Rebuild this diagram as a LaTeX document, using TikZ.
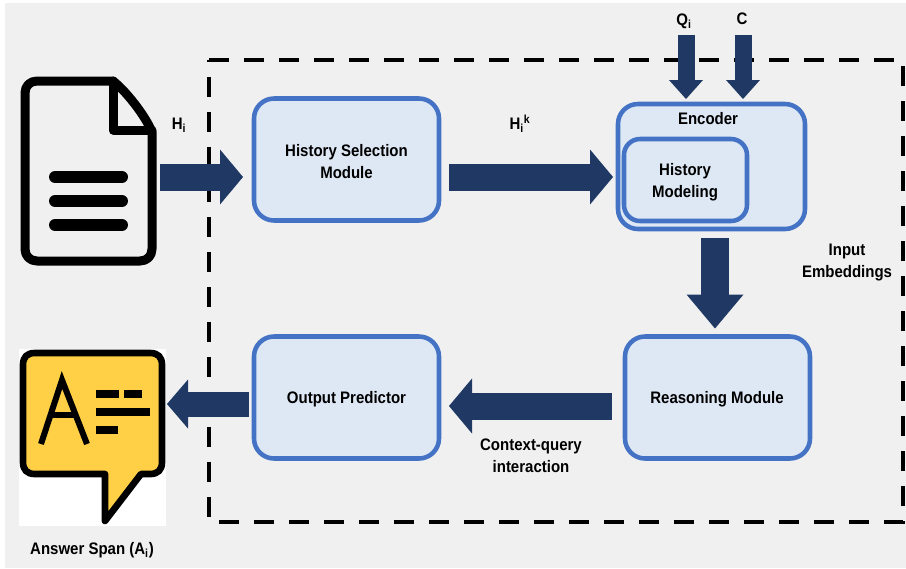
\documentclass[tikz,border=0pt]{standalone}
\usepackage{fontspec}
\setmainfont[FakeStretch=0.9]{Liberation Sans}
\usetikzlibrary{arrows.meta}
\definecolor{pagegray}{RGB}{240,240,240}
\definecolor{boxblue}{RGB}{68,114,196}
\definecolor{boxfill}{RGB}{222,232,245}
\definecolor{arrownavy}{RGB}{31,56,100}
\definecolor{bubbleyellow}{RGB}{255,208,70}
\tikzset{every picture/.style={line width=0.75pt}}
\tikzset{
  modbox/.style={draw=boxblue,fill=boxfill,line width=3.4pt,rounded corners=15pt,outer sep=0pt,inner sep=0pt,minimum width=138.75pt,minimum height=91.5pt},
  txt/.style={inner sep=0pt,align=center,font=\fontsize{12.5}{16.5}\selectfont\bfseries},
  bigarrow/.style={draw=arrownavy,line width=20.25pt,-{Triangle[length=17.25pt,width=41.25pt,line width=0pt]}},
  thinarrow/.style={draw=arrownavy,line width=12.75pt,-{Triangle[length=14.25pt,width=25.5pt,line width=0pt]}},
  icon/.style={line width=6.75pt,line join=round,line cap=round},
}
\begin{document}
\begin{tikzpicture}[x=0.75pt,y=0.75pt,yscale=-1,xscale=1]
    \useasboundingbox (0,0) rectangle (906,568);
    % page
    \fill[pagegray] (5,3) rectangle (906,568);
    % dashed frame
    \draw[line width=3.4pt,dash pattern=on 15pt off 11.25pt] (209,60) -- (903,60) -- (903,522) -- (209,522) -- cycle;

    % document icon
    \draw[icon,fill=pagegray] (25,93) .. controls (25,86) and (30,81) .. (37,81) -- (113,81) .. controls (125,90) and (145,115) .. (152,132) -- (152,249) .. controls (152,256) and (147,261) .. (140,261) -- (37,261) .. controls (30,261) and (25,256) .. (25,249) -- cycle;
    \draw[icon,line join=round] (113,81) -- (113,130) -- (152,130);
    \foreach \liney in {177,201,225}
        \draw[line width=9pt,line cap=round] (55,\liney) -- (122,\liney);

    % answer icon
    \fill[white] (19,349) rectangle (166,526);
    \draw[line width=5pt,line join=round,fill=bubbleyellow] (35,353) -- (150,353) .. controls (158,353) and (162,357) .. (162,365) -- (162,462) .. controls (162,470) and (158,474) .. (150,474) -- (141,474) -- (105,521) -- (105,474) -- (35,474) .. controls (27,474) and (23,470) .. (23,462) -- (23,365) .. controls (23,357) and (27,353) .. (35,353) -- cycle;
    \draw[line width=4.5pt] (41,444) -- (62,380) -- (87,444);
    \draw[line width=4.5pt] (50,415) -- (78,415);
    \draw[line width=5.5pt] (96,394) -- (119,394);
    \draw[line width=5.5pt] (124,394) -- (142,394);
    \draw[line width=5.5pt] (96,412) -- (150,412);
    \draw[line width=5.5pt] (96,430) -- (118,430);

    % modules
    \node[modbox] (hsm) at (346.5,159.5) {};
    \node[modbox] (op) at (346.5,397.5) {};
    \node[modbox] (rm) at (717.5,397.5) {};
    \node[modbox,minimum width=140.25pt,minimum height=93.75pt] (enc) at (711.5,166.5) {};
    \node[modbox,minimum width=92.25pt,minimum height=61.5pt,rounded corners=12pt] (hm) at (685.5,180) {};

    % arrows
    \coordinate (doc) at (160,177);
    \coordinate (ans) at (167,404);
    \coordinate (qin) at (686,35);
    \coordinate (cin) at (743,35);
    \coordinate (midcol) at (715,237);
    \coordinate (backrow) at (612,406);
    \draw[bigarrow,shorten >=8.25pt] (doc) -- (doc -| hsm.west);
    \draw[bigarrow,shorten <=7.5pt,shorten >=3.75pt] (hsm.east |- doc) -- (enc.west |- doc);
    \draw[thinarrow,shorten >=3.75pt] (qin) -- (qin |- enc.north);
    \draw[thinarrow,shorten >=3.75pt] (cin) -- (cin |- enc.north);
    \draw[bigarrow,line width=21pt,-{Triangle[length=25.5pt,width=42.75pt,line width=0pt]},shorten >=6pt,shorten <=6.75pt] (midcol |- enc.south) -- (midcol |- rm.north);
    \draw[bigarrow,shorten >=7.5pt] (backrow) -- (backrow -| op.east);
    \draw[bigarrow,line width=18.75pt,-{Triangle[length=15.75pt,width=36.75pt,line width=0pt]},shorten <=3.75pt] (op.west |- ans) -- (ans);

    % labels
    \node[txt] (hsmlabel) at (346.5,162) {History Selection\\Module};
    \node[txt] (oplabel) at (346.5,399) {Output Predictor};
    \node[txt] (rmlabel) at (717,399) {Reasoning Module};
    \node[txt] (enclabel) at (708,119) {Encoder};
    \node[txt] (hmlabel) at (685,182) {History\\Modeling};
    \node[txt] (hlabel) at (179,125) {H\textsubscript{i}};
    \node[txt] (hklabel) at (520,124) {H\textsubscript{i}\textsuperscript{k}};
    \node[txt] (qlabel) at (684,21) {Q\textsubscript{i}};
    \node[txt] (clabel) at (742,19) {C};
    \node[txt] (inputlabel) at (847,263) {Input\\Embeddings};
    \node[txt] (ctxlabel) at (531,456) {Context-query\\interaction};
    \node[txt] (anslabel) at (92,550) {Answer Span (A\textsubscript{i})};
\end{tikzpicture}
\end{document}
